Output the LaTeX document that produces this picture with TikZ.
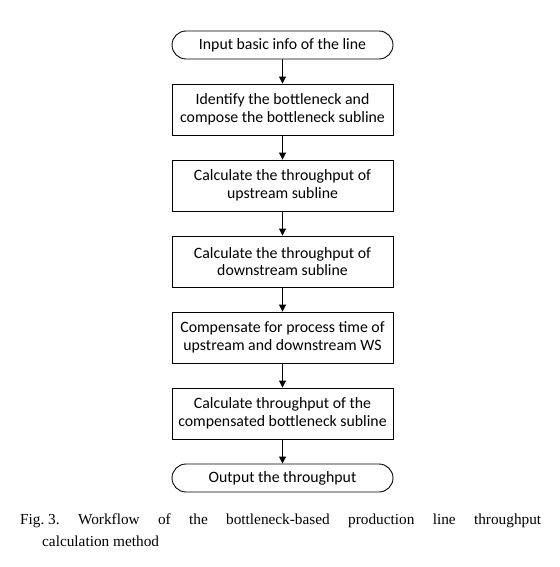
\documentclass[tikz,border=0pt]{standalone}
\usepackage{fontspec}
\setmainfont{Liberation Serif}
\newfontfamily\boxfont{Carlito}
\usetikzlibrary{shapes.misc,arrows.meta}
\begin{document}
\begin{tikzpicture}[x=1pt,y=-1pt,
  boxtext/.style={font=\boxfont\fontsize{15.8}{17.5}\selectfont},
  proc/.style={draw, line width=0.9pt, minimum width=221pt, minimum height=51pt,
    align=center, inner sep=0pt, boxtext},
  term/.style={draw, rounded rectangle, line width=0.9pt, minimum width=221pt,
    minimum height=28pt, inner sep=0pt, boxtext},
  arr/.style={-{Triangle[length=7pt,width=7pt]}, line width=0.9pt},
  captext/.style={inner sep=0pt, anchor=base west, font=\frenchspacing\fontsize{15.3}{22}\selectfont}]
\useasboundingbox (0,0) rectangle (559,567);
\node[term] (s) at (282.5,45) {Input basic info of the line};
\node[proc] (b1) at (282.5,109.5) {Identify the bottleneck and\\compose the bottleneck subline};
\node[proc] (b2) at (282.5,185.5) {Calculate the throughput of\\upstream subline};
\node[proc] (b3) at (282.5,261.5) {Calculate the throughput of\\downstream subline};
\node[proc] (b4) at (282.5,337.5) {Compensate for process time of\\upstream and downstream WS};
\node[proc] (b5) at (282.5,413.5) {Calculate throughput of the\\compensated bottleneck subline};
\node[term] (e) at (282.5,478) {Output the throughput};
\draw[arr] (s) -- (b1);
\draw[arr] (b1) -- (b2);
\draw[arr] (b2) -- (b3);
\draw[arr] (b3) -- (b4);
\draw[arr] (b4) -- (b5);
\draw[arr] (b5) -- (e);
\node[captext] (cap1) at (20,524)
  {\makebox[521pt][s]{Fig.\kern3.8pt 3. Workflow of the bottleneck-based production line throughput}};
\node[captext] (cap2) at (42,546) {calculation method};
\end{tikzpicture}
\end{document}
